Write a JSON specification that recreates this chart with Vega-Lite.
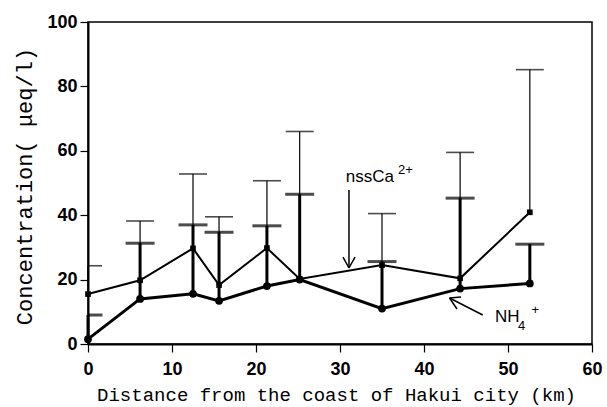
{
  "$schema": "https://vega.github.io/schema/vega-lite/v6.json",
  "width": 504,
  "height": 322,
  "autosize": {"type": "none"},
  "padding": {"left": 88, "top": 22, "right": 15, "bottom": 63},
  "background": "white",
  "config": {
    "view": {"stroke": "black", "strokeWidth": 1.5},
    "axis": {"grid": false, "domainColor": "black", "domainWidth": 2, "tickColor": "black", "tickWidth": 1.2, "tickSize": 8,
             "labelFont": "Liberation Sans", "labelFontWeight": "bold", "labelFontSize": 18, "labelColor": "black",
             "titleFont": "Liberation Mono", "titleFontWeight": "normal", "titleColor": "black"}
  },
  "datasets": {
    "conc": [
      {"species": "nssCa", "x": 0, "mean": 15.5, "upper": 24.3},
      {"species": "nssCa", "x": 6.2, "mean": 19.8, "upper": 38.2},
      {"species": "nssCa", "x": 12.5, "mean": 29.7, "upper": 52.8},
      {"species": "nssCa", "x": 15.6, "mean": 18.3, "upper": 39.5},
      {"species": "nssCa", "x": 21.3, "mean": 29.8, "upper": 50.7},
      {"species": "nssCa", "x": 25.2, "mean": 20.2, "upper": 66},
      {"species": "nssCa", "x": 35.0, "mean": 24.5, "upper": 40.5},
      {"species": "nssCa", "x": 44.3, "mean": 20.4, "upper": 59.5},
      {"species": "nssCa", "x": 52.6, "mean": 40.9, "upper": 85.2},
      {"species": "NH4", "x": 0, "mean": 1.5, "upper": 9.0},
      {"species": "NH4", "x": 6.2, "mean": 14.0, "upper": 31.3},
      {"species": "NH4", "x": 12.5, "mean": 15.6, "upper": 37.0},
      {"species": "NH4", "x": 15.6, "mean": 13.4, "upper": 34.7},
      {"species": "NH4", "x": 21.3, "mean": 18.0, "upper": 36.7},
      {"species": "NH4", "x": 25.2, "mean": 20.0, "upper": 46.5},
      {"species": "NH4", "x": 35.0, "mean": 11.0, "upper": 25.6},
      {"species": "NH4", "x": 44.3, "mean": 17.2, "upper": 45.3},
      {"species": "NH4", "x": 52.6, "mean": 18.8, "upper": 31.0}
    ],
    "arrows": [
      {"x": 31.07, "y": 47.8, "x2": 31.07, "y2": 23.6},
      {"x": 30.36, "y": 27.0, "x2": 31.07, "y2": 23.6},
      {"x": 31.79, "y": 27.0, "x2": 31.07, "y2": 23.6},
      {"x": 46.99, "y": 9.0, "x2": 43.04, "y2": 14.29},
      {"x": 44.40, "y": 14.6, "x2": 43.04, "y2": 14.29},
      {"x": 43.93, "y": 10.87, "x2": 43.04, "y2": 14.29}
    ],
    "labels": [
      {"text": "nssCa", "x": 30.68, "y": 50.3, "role": "main"},
      {"text": "2+", "x": 36.9, "y": 52.8, "role": "script"},
      {"text": "NH", "x": 48.45, "y": 6.93, "role": "main"},
      {"text": "4", "x": 51.2, "y": 4.2, "role": "script"},
      {"text": "+", "x": 52.8, "y": 9.3, "role": "script"}
    ]
  },
  "encoding": {
    "x": {"field": "x", "type": "quantitative", "scale": {"domain": [0, 60], "nice": false},
          "axis": {"values": [0, 10, 20, 30, 40, 50, 60], "title": "Distance from the coast of Hakui city (km)",
                   "titleFontSize": 19, "titleX": 248, "titleY": 56, "titleAlign": "center", "titleBaseline": "alphabetic",
                   "labelPadding": 8, "labelFlush": false}},
    "y": {"field": "mean", "type": "quantitative", "scale": {"domain": [0, 100], "nice": false},
          "axis": {"values": [0, 20, 40, 60, 80, 100], "title": "Concentration( μeq/l)",
                   "titleFontSize": 22, "titleAngle": -90, "titleX": -64, "titleY": 164, "titleAlign": "center", "titleBaseline": "middle",
                   "labelPadding": 3}}
  },
  "layer": [
    {
      "data": {"name": "conc"},
      "transform": [{"filter": "datum.species === 'nssCa'"}],
      "mark": {"type": "rule", "color": "black", "strokeWidth": 1.2},
      "encoding": {"y2": {"field": "upper"}}
    },
    {
      "data": {"name": "conc"},
      "transform": [{"filter": "datum.species === 'nssCa'"}],
      "mark": {"type": "tick", "orient": "horizontal", "color": "black", "size": 28, "thickness": 1.6, "clip": true},
      "encoding": {"y": {"field": "upper", "type": "quantitative"}}
    },
    {
      "data": {"name": "conc"},
      "transform": [{"filter": "datum.species === 'NH4'"}],
      "mark": {"type": "rule", "color": "black", "strokeWidth": 3},
      "encoding": {"y2": {"field": "upper"}}
    },
    {
      "data": {"name": "conc"},
      "transform": [{"filter": "datum.species === 'NH4'"}],
      "mark": {"type": "tick", "orient": "horizontal", "color": "black", "size": 29, "thickness": 3, "clip": true},
      "encoding": {"y": {"field": "upper", "type": "quantitative"}}
    },
    {
      "data": {"name": "conc"},
      "transform": [{"filter": "datum.species === 'nssCa'"}],
      "mark": {"type": "line", "color": "black", "strokeWidth": 2},
      "encoding": {}
    },
    {
      "data": {"name": "conc"},
      "transform": [{"filter": "datum.species === 'NH4'"}],
      "mark": {"type": "line", "color": "black", "strokeWidth": 3},
      "encoding": {}
    },
    {
      "data": {"name": "conc"},
      "transform": [{"filter": "datum.species === 'nssCa'"}],
      "mark": {"type": "point", "shape": "square", "filled": true, "color": "black", "size": 32, "opacity": 1},
      "encoding": {}
    },
    {
      "data": {"name": "conc"},
      "transform": [{"filter": "datum.species === 'NH4'"}],
      "mark": {"type": "point", "shape": "circle", "filled": true, "color": "black", "size": 60, "opacity": 1},
      "encoding": {}
    },
    {
      "data": {"name": "arrows"},
      "mark": {"type": "rule", "color": "black", "strokeWidth": 1.5},
      "encoding": {
        "y": {"field": "y", "type": "quantitative"},
        "x2": {"field": "x2"},
        "y2": {"field": "y2"}
      }
    },
    {
      "data": {"name": "labels"},
      "transform": [{"filter": "datum.role === 'main'"}],
      "mark": {"type": "text", "font": "Liberation Sans", "fontSize": 17, "align": "left", "baseline": "alphabetic", "color": "black"},
      "encoding": {"y": {"field": "y", "type": "quantitative"}, "text": {"field": "text"}}
    },
    {
      "data": {"name": "labels"},
      "transform": [{"filter": "datum.role === 'script'"}],
      "mark": {"type": "text", "font": "Liberation Sans", "fontSize": 13, "align": "left", "baseline": "alphabetic", "color": "black"},
      "encoding": {"y": {"field": "y", "type": "quantitative"}, "text": {"field": "text"}}
    }
  ]
}
